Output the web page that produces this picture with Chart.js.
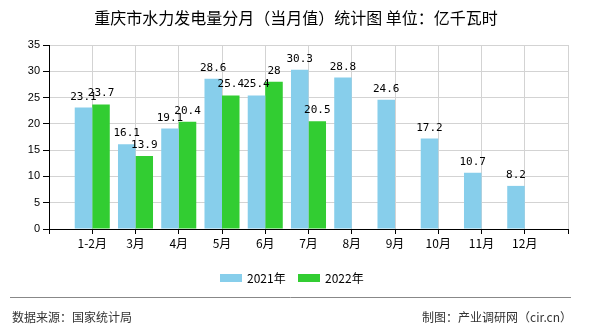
<!DOCTYPE html>
<html>
<head>
<meta charset="utf-8">
<script src="https://cdn.jsdelivr.net/npm/chart.js@4.4.0/dist/chart.umd.min.js"></script>
<style>
  body { margin: 0; background: #fff; }
  #wrap { width: 590px; height: 330px; position: relative; }
</style>
</head>
<body>
<div id="wrap"><canvas id="myBarChart" width="590" height="330"></canvas></div>
<script>
// categories and values
const months = ["1-2月", "3月", "4月", "5月", "6月", "7月", "8月", "9月", "10月", "11月", "12月"];
const values2021 = [23.1, 16.1, 19.1, 28.6, 25.4, 30.3, 28.8, 24.6, 17.2, 10.7, 8.2];
const values2022 = [23.7, 13.9, 20.4, 25.4, 28, 20.5];
const yTicks = [0, 5, 10, 15, 20, 25, 30, 35];

const titleText = "重庆市水力发电量分月（当月值）统计图 单位：亿千瓦时";
const sourceText = "数据来源：国家统计局";
const makerText = "制图：产业调研网（cir.cn）";

const cjk = '"Noto Sans CJK SC", sans-serif';

// an empty slot at each end, like the original axis
const labels = [""].concat(months, [""]);
function pad(arr) {
  const out = [null];
  for (let i = 0; i < months.length; i++) out.push(i < arr.length ? arr[i] : null);
  out.push(null);
  return out;
}

//--------------------------labels above bars----------
const barLabels = {
  id: "barLabels",
  afterDatasetsDraw(chart) {
    const ctx = chart.ctx;
    ctx.save();
    ctx.font = '11px "DejaVu Sans Mono", monospace';
    ctx.fillStyle = "#000";
    ctx.textAlign = "center";
    ctx.textBaseline = "alphabetic";
    chart.data.datasets.forEach((ds, i) => {
      chart.getDatasetMeta(i).data.forEach((bar, j) => {
        const v = ds.data[j];
        if (v === null || v === undefined) return;
        ctx.fillText(String(v), bar.x, bar.y - 8);
      });
    });
    ctx.restore();
  },
};

//--------------------------title, legend, footer----------
const decorations = {
  id: "decorations",
  afterDraw(chart) {
    const ctx = chart.ctx;
    ctx.save();
    ctx.fillStyle = "#000";
    ctx.textBaseline = "middle";
    ctx.textAlign = "center";
    ctx.font = "16px " + cjk;
    ctx.fillText(titleText, 296, 18);

    // legend
    ctx.font = "12px " + cjk;
    ctx.textAlign = "left";
    chart.data.datasets.forEach((ds, i) => {
      const x = 220 + i * 78;
      ctx.fillStyle = ds.backgroundColor;
      ctx.fillRect(x, 274, 22, 8);
      ctx.fillStyle = "#000";
      ctx.fillText(ds.label, x + 27, 278);
    });

    // footer
    ctx.strokeStyle = "#888";
    ctx.lineWidth = 1;
    ctx.beginPath();
    ctx.moveTo(10, 297.5);
    ctx.lineTo(571, 297.5);
    ctx.stroke();
    ctx.fillStyle = "#333";
    ctx.font = "12px " + cjk;
    ctx.textAlign = "left";
    ctx.fillText(sourceText, 12, 317);
    ctx.textAlign = "right";
    ctx.fillText(makerText, 572, 317);
    ctx.restore();
  },
};

const chartData = {
  labels: labels,
  datasets: [
    {
      label: "2021年",
      data: pad(values2021),
      backgroundColor: "#87CEEB",
      barPercentage: 1,
      categoryPercentage: 0.81,
    },
    {
      label: "2022年",
      data: pad(values2022),
      backgroundColor: "#32CD32",
      barPercentage: 1,
      categoryPercentage: 0.81,
    },
  ],
};

const chartConfig = {
  type: "bar",
  data: chartData,
  options: {
    responsive: false,
    animation: false,
    layout: {
      padding: { left: 9, right: 22, top: 45, bottom: 71 },
    },
    plugins: {
      legend: { display: false },
      title: { display: false },
      tooltip: { enabled: false },
    },
    scales: {
      x: {
        offset: false,
        afterFit(scale) { scale.height = 30; },
        grid: {
          offset: false,
          color: "#d3d3d3",
          tickColor: "#000",
          tickLength: 5,
        },
        border: { color: "#000", width: 1 },
        ticks: {
          color: "#000",
          font: { size: 12, family: cjk },
          padding: 2,
          maxRotation: 0,
          autoSkip: false,
        },
      },
      y: {
        min: yTicks[0],
        max: yTicks[yTicks.length - 1],
        afterFit(scale) { scale.width = 40; },
        afterBuildTicks(scale) {
          scale.ticks = yTicks.map((v) => ({ value: v }));
        },
        grid: {
          color: "#d3d3d3",
          tickColor: "#000",
          tickLength: 6,
        },
        border: { color: "#000", width: 1 },
        ticks: {
          color: "#000",
          font: { size: 11, family: '"Liberation Sans", Arial, sans-serif' },
          padding: 3,
        },
      },
    },
  },
  plugins: [barLabels, decorations],
};

const myChart = new Chart(document.getElementById("myBarChart"), chartConfig);
</script>
</body>
</html>
